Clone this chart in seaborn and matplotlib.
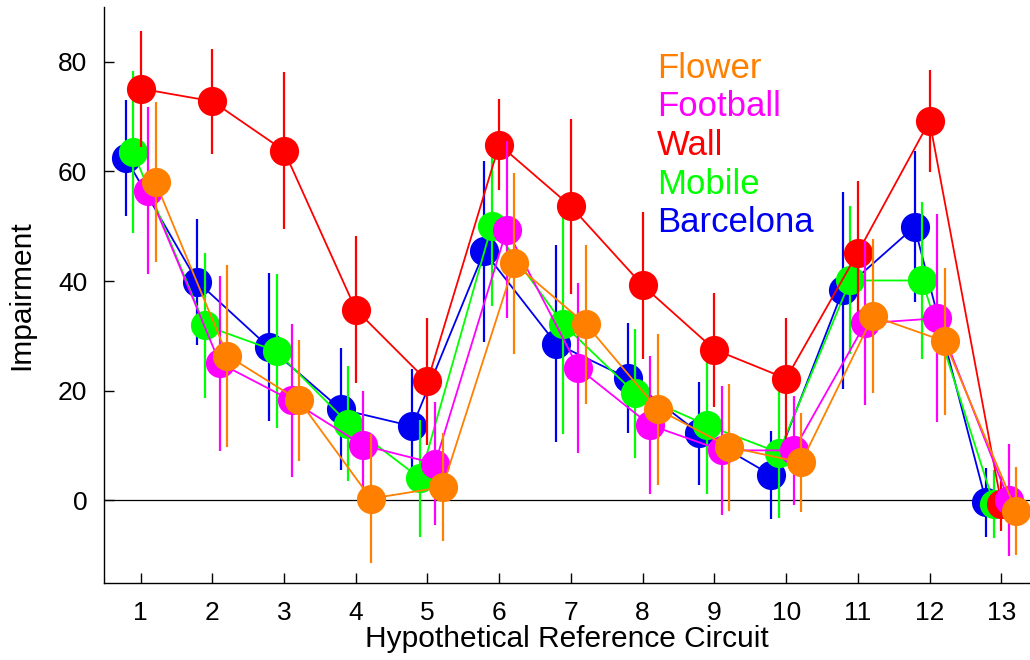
import numpy as np
import pandas as pd
import matplotlib
matplotlib.use("Agg")
import matplotlib.pyplot as plt
import seaborn as sns

circuits = list(range(1, 14))
series_names = ["Barcelona", "Mobile", "Wall", "Football", "Flower"]
colors = {"Barcelona": "#0000F0", "Mobile": "#00FF00", "Wall": "#FF0000",
          "Football": "#FF00FF", "Flower": "#FF8000"}

barcelona = [62.5, 39.9, 27.9, 16.6, 13.5, 45.4, 28.6, 22.3, 12.2, 4.6, 38.3, 49.9, -0.4]
barcelona_err = [10.6, 11.5, 13.5, 11.1, 10.5, 16.5, 18.0, 10.0, 9.4, 8.0, 18.0, 13.8, 6.3]
mobile = [63.6, 31.9, 27.2, 14.0, 4.0, 50.1, 32.1, 19.5, 13.7, 8.7, 40.1, 40.1, -0.6]
mobile_err = [14.8, 13.3, 14.0, 10.5, 10.7, 14.6, 20.0, 11.8, 12.6, 12.0, 13.5, 14.3, 6.2]
wall = [75.1, 72.8, 63.8, 34.8, 21.7, 64.9, 53.6, 39.2, 27.5, 22.2, 45.2, 69.2, -0.6]
wall_err = [10.6, 9.6, 14.3, 13.4, 11.6, 8.3, 16.0, 13.4, 10.4, 11.0, 13.0, 9.3, 5.0]
football = [56.5, 25.0, 18.2, 10.0, 6.7, 49.4, 24.1, 13.7, 9.1, 9.1, 32.3, 33.2, 0.0]
football_err = [15.3, 16.0, 13.9, 10.0, 11.2, 16.2, 15.5, 12.6, 11.8, 10.0, 15.0, 19.0, 10.2]
flower = [58.0, 26.4, 18.2, 0.3, 2.4, 43.2, 32.1, 16.6, 9.7, 6.9, 33.6, 29.0, -2.0]
flower_err = [14.6, 16.6, 11.0, 11.7, 9.8, 16.6, 14.5, 13.8, 11.6, 9.0, 14.0, 13.4, 8.0]

values = {"Barcelona": barcelona, "Mobile": mobile, "Wall": wall,
          "Football": football, "Flower": flower}
errors = {"Barcelona": barcelona_err, "Mobile": mobile_err, "Wall": wall_err,
          "Football": football_err, "Flower": flower_err}
dodge = {"Barcelona": -0.21, "Mobile": -0.105, "Wall": 0.0,
         "Football": 0.105, "Flower": 0.21}
legend_order = ["Flower", "Football", "Wall", "Mobile", "Barcelona"]

sns.set_theme(style="ticks")
plt.rcParams["font.family"] = ["Liberation Sans", "DejaVu Sans"]
plt.rcParams["text.color"] = "black"
plt.rcParams["axes.labelcolor"] = "black"
plt.rcParams["xtick.color"] = "black"
plt.rcParams["ytick.color"] = "black"

fig = plt.figure(figsize=(10.3, 6.6), dpi=100)
ax = fig.add_axes([104 / 1030, (660 - 583) / 660, (1030 - 104) / 1030, (583 - 7) / 660])

ax.axhline(0, color="black", linewidth=0.9, zorder=1)

rows = []
for name in series_names:
    for c, v, e in zip(circuits, values[name], errors[name]):
        rows.append({"series": name, "circuit": c, "pos": c + dodge[name],
                     "value": v, "err": e})
df = pd.DataFrame(rows)

for i, name in enumerate(series_names):
    d = df[df["series"] == name]
    ax.vlines(d["pos"], d["value"] - d["err"], d["value"] + d["err"],
              color=colors[name], linewidth=1.6, zorder=2 + i * 0.1)
    sns.lineplot(data=d, x="pos", y="value", ax=ax, color=colors[name],
                 linewidth=1.3, marker="o", markersize=21,
                 markeredgewidth=0, estimator=None, sort=False,
                 zorder=2.05 + i * 0.1)

ax.set_xlim(0.49, 13.4)
ax.set_ylim(-15.1, 90.0)
ax.set_xticks(circuits)
ax.set_yticks([0, 20, 40, 60, 80])
ax.tick_params(direction="in", length=7, width=1, labelsize=19, colors="black")
ax.tick_params(axis="x", pad=13)
ax.tick_params(axis="y", pad=12)
for s in ["top", "right"]:
    ax.spines[s].set_visible(False)
for s in ["left", "bottom"]:
    ax.spines[s].set_color("black")
    ax.spines[s].set_linewidth(1.0)
ax.set_xlabel("Hypothetical Reference Circuit", fontsize=21.5, labelpad=0)
ax.set_ylabel("Impairment", fontsize=21.5, labelpad=16)

for k, name in enumerate(legend_order):
    ax.text(657, 660 - (78 + k * 38.5), name, color=colors[name], fontsize=25,
            transform=matplotlib.transforms.IdentityTransform(),
            va="baseline", ha="left")

fig.savefig("out.png", dpi=100)
